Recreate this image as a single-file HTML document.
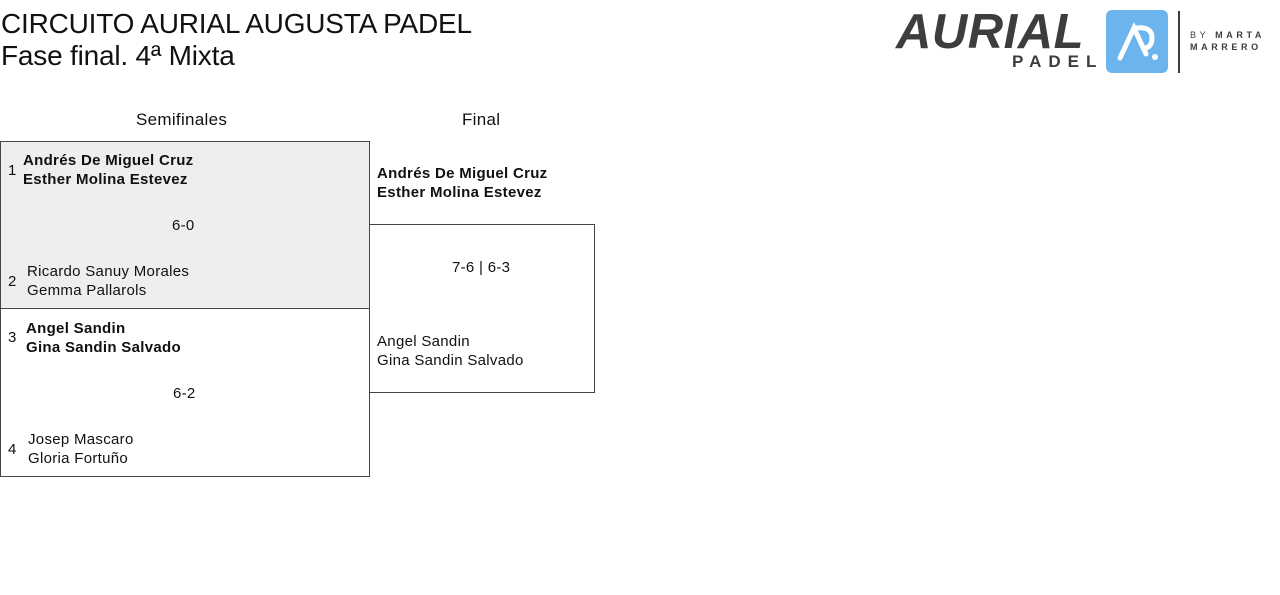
<!DOCTYPE html>
<html><head><meta charset="utf-8"><style>
body{margin:0;width:1280px;height:595px;background:#fff;font-family:"Liberation Sans",sans-serif;color:#111;position:relative;overflow:hidden}
.a{position:absolute;white-space:nowrap}
.t{font-size:28px;line-height:32px;letter-spacing:-0.2px}
.s{font-size:15px;line-height:19px;letter-spacing:0.3px}
.b{font-weight:bold}
.box{position:absolute;border:1px solid #444;box-sizing:border-box}
</style></head><body>
<div class="a t" style="left:1px;top:8px">CIRCUITO AURIAL AUGUSTA PADEL</div>
<div class="a t" style="left:1px;top:40px">Fase final. 4ª Mixta</div>

<!-- logo -->
<div class="a" style="left:896px;top:4px;font:italic bold 49px/56px 'Liberation Sans',sans-serif;color:#3d3d3d;letter-spacing:0.5px">AURIAL</div>
<div class="a" style="left:1012px;top:52px;font:bold 17px/20px 'Liberation Sans',sans-serif;color:#3d3d3d;letter-spacing:7px">PADEL</div>
<div class="a" style="left:1106px;top:10px;width:62px;height:63px;background:#6cb4ee;border-radius:6px"></div>
<svg class="a" style="left:1106px;top:10px" width="62" height="63"><path d="M14 48 L28 18 L40 44" stroke="#fff" stroke-width="5" fill="none" stroke-linecap="round"/><path d="M30 18 Q46 16 46 28 Q46 36 40 38" stroke="#fff" stroke-width="5" fill="none" stroke-linecap="round"/><circle cx="49" cy="47" r="3" fill="#fff"/></svg>
<div class="a" style="left:1178px;top:11px;width:2px;height:62px;background:#3d3d3d"></div>
<div class="a" style="left:1190px;top:29px;font:9px/12px 'Liberation Sans',sans-serif;color:#3d3d3d;letter-spacing:3.6px">BY <b>MARTA</b><br><b>MARRERO</b></div>

<div class="a s" style="left:136px;top:110px;font-size:17px">Semifinales</div>
<div class="a s" style="left:462px;top:110px;font-size:17px">Final</div>

<div class="box" style="left:0;top:141px;width:370px;height:168px;background:#eee"></div>
<div class="box" style="left:0;top:308px;width:370px;height:169px"></div>
<div class="box" style="left:369px;top:224px;width:226px;height:169px"></div>

<div class="a s" style="left:8px;top:161px">1</div>
<div class="a s b" style="left:23px;top:151px">Andrés De Miguel Cruz<br>Esther Molina Estevez</div>
<div class="a s" style="left:172px;top:216px">6-0</div>
<div class="a s" style="left:8px;top:272px">2</div>
<div class="a s" style="left:27px;top:262px">Ricardo Sanuy Morales<br>Gemma Pallarols</div>

<div class="a s" style="left:8px;top:328px">3</div>
<div class="a s b" style="left:26px;top:319px">Angel Sandin<br>Gina Sandin Salvado</div>
<div class="a s" style="left:173px;top:384px">6-2</div>
<div class="a s" style="left:8px;top:440px">4</div>
<div class="a s" style="left:28px;top:430px">Josep Mascaro<br>Gloria Fortuño</div>

<div class="a s b" style="left:377px;top:164px">Andrés De Miguel Cruz<br>Esther Molina Estevez</div>
<div class="a s" style="left:452px;top:258px">7-6 | 6-3</div>
<div class="a s" style="left:377px;top:332px">Angel Sandin<br>Gina Sandin Salvado</div>
</body></html>
